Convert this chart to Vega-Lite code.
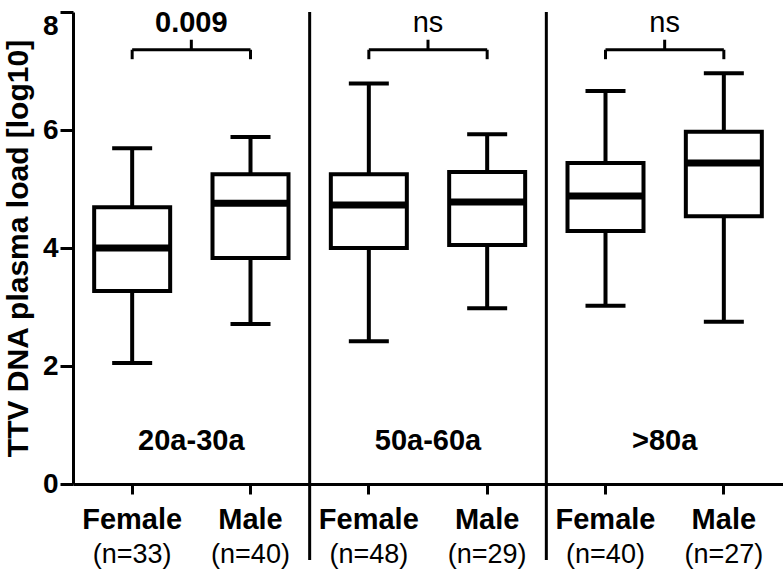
{
  "$schema": "https://vega.github.io/schema/vega-lite/v6.json",
  "width": 710,
  "height": 472,
  "autosize": "none",
  "padding": {"left": 73, "top": 12, "right": 0, "bottom": 85},
  "background": "white",
  "config": {
    "view": {"stroke": null},
    "font": "Liberation Sans",
    "text": {"font": "Liberation Sans", "color": "black"},
    "axis": {"labelFont": "Liberation Sans", "titleFont": "Liberation Sans", "labelColor": "black", "titleColor": "black", "domainColor": "black", "tickColor": "black", "grid": false}
  },
  "datasets": {
    "boxes": [
      {"cat": "Female|(n=33)", "lo": 2.05, "q1": 3.27, "med": 4.0, "q3": 4.69, "hi": 5.69},
      {"cat": "Male|(n=40)", "lo": 2.71, "q1": 3.83, "med": 4.76, "q3": 5.25, "hi": 5.88},
      {"cat": "Female|(n=48)", "lo": 2.42, "q1": 4.0, "med": 4.73, "q3": 5.25, "hi": 6.79},
      {"cat": "Male|(n=29)", "lo": 2.98, "q1": 4.05, "med": 4.78, "q3": 5.29, "hi": 5.93},
      {"cat": "Female|(n=40)", "lo": 3.02, "q1": 4.29, "med": 4.88, "q3": 5.44, "hi": 6.66},
      {"cat": "Male|(n=27)", "lo": 2.75, "q1": 4.54, "med": 5.44, "q3": 5.97, "hi": 6.96}
    ],
    "groups": [
      {"group": "20a-30a", "left": "Female|(n=33)", "right": "Male|(n=40)", "p": "0.009"},
      {"group": "50a-60a", "left": "Female|(n=48)", "right": "Male|(n=29)", "p": "ns"},
      {"group": ">80a", "left": "Female|(n=40)", "right": "Male|(n=27)", "p": "ns"}
    ],
    "dividers": [
      {"after": "Male|(n=40)"},
      {"after": "Male|(n=29)"}
    ]
  },
  "resolve": {"axis": {"x": "independent"}},
  "layer": [
    {
      "data": {"name": "boxes"},
      "mark": {"type": "rule", "strokeWidth": 4, "color": "black"},
      "encoding": {
        "x": {
          "field": "cat", "type": "nominal",
          "scale": {"type": "band", "domain": ["Female|(n=33)", "Male|(n=40)", "Female|(n=48)", "Male|(n=29)", "Female|(n=40)", "Male|(n=27)"], "paddingInner": 0, "paddingOuter": 0},
          "axis": {"title": null, "orient": "bottom", "labelExpr": "split(datum.value,'|')[0]", "labelFontSize": 29, "labelFontWeight": "bold", "labelAngle": 0, "tickSize": 10, "tickWidth": 3, "domainWidth": 3, "labelPadding": 11}
        },
        "y": {
          "field": "lo", "type": "quantitative",
          "scale": {"domain": [0, 8]},
          "axis": {"title": "TTV DNA plasma load [log10]", "values": [0, 2, 4, 6, 8], "format": "d", "labelFontSize": 28, "labelFontWeight": "bold", "labelBaseline": {"condition": {"test": "datum.value == 8", "value": "top"}, "value": "middle"}, "tickSize": 13, "tickWidth": 3, "domainWidth": 3, "labelPadding": 2, "titleFontSize": 30, "titleFontWeight": "bold", "titleColor": "black", "titlePadding": 9}
        },
        "y2": {"field": "hi"}
      }
    },
    {
      "data": {"name": "boxes"},
      "mark": {"type": "tick", "size": 40, "thickness": 4, "color": "black", "opacity": 1},
      "encoding": {
        "x": {"field": "cat", "type": "nominal", "axis": null},
        "y": {"field": "lo", "type": "quantitative", "title": "TTV DNA plasma load [log10]"}
      }
    },
    {
      "data": {"name": "boxes"},
      "mark": {"type": "tick", "size": 40, "thickness": 4, "color": "black", "opacity": 1},
      "encoding": {
        "x": {"field": "cat", "type": "nominal", "axis": null},
        "y": {"field": "hi", "type": "quantitative", "title": "TTV DNA plasma load [log10]"}
      }
    },
    {
      "data": {"name": "boxes"},
      "mark": {"type": "bar", "width": 76, "fill": "white", "stroke": "black", "strokeWidth": 4},
      "encoding": {
        "x": {
          "field": "cat", "type": "nominal",
          "axis": {"title": null, "orient": "bottom", "domain": false, "ticks": false, "tickSize": 0, "labelExpr": "split(datum.value,'|')[1]", "labelFontSize": 27, "labelFontWeight": "normal", "labelAngle": 0, "labelPadding": 57}
        },
        "y": {"field": "q1", "type": "quantitative", "title": "TTV DNA plasma load [log10]"},
        "y2": {"field": "q3"}
      }
    },
    {
      "data": {"name": "boxes"},
      "mark": {"type": "tick", "size": 78, "thickness": 7, "color": "black", "opacity": 1},
      "encoding": {
        "x": {"field": "cat", "type": "nominal", "axis": null},
        "y": {"field": "med", "type": "quantitative", "title": "TTV DNA plasma load [log10]"}
      }
    },
    {
      "data": {"name": "dividers"},
      "mark": {"type": "rule", "strokeWidth": 3, "color": "black"},
      "encoding": {
        "x": {"field": "after", "type": "nominal", "bandPosition": 1, "axis": null},
        "y": {"datum": 8, "type": "quantitative"},
        "y2": {"datum": -1.29}
      }
    },
    {
      "data": {"name": "groups"},
      "mark": {"type": "rule", "strokeWidth": 3, "color": "black"},
      "encoding": {
        "x": {"field": "left", "type": "nominal", "bandPosition": 0.5, "axis": null},
        "x2": {"field": "right", "bandPosition": 0.5},
        "y": {"datum": 7.36, "type": "quantitative"}
      }
    },
    {
      "data": {"name": "groups"},
      "mark": {"type": "rule", "strokeWidth": 3, "color": "black"},
      "encoding": {
        "x": {"field": "left", "type": "nominal", "axis": null},
        "y": {"datum": 7.2, "type": "quantitative"},
        "y2": {"datum": 7.36}
      }
    },
    {
      "data": {"name": "groups"},
      "mark": {"type": "rule", "strokeWidth": 3, "color": "black"},
      "encoding": {
        "x": {"field": "right", "type": "nominal", "axis": null},
        "y": {"datum": 7.2, "type": "quantitative"},
        "y2": {"datum": 7.36}
      }
    },
    {
      "data": {"name": "groups"},
      "mark": {"type": "rule", "strokeWidth": 3, "color": "black"},
      "encoding": {
        "x": {"field": "left", "type": "nominal", "bandPosition": 1, "axis": null},
        "y": {"datum": 7.36, "type": "quantitative"},
        "y2": {"datum": 7.53}
      }
    },
    {
      "data": {"name": "groups"},
      "transform": [{"filter": "datum.p != 'ns'"}],
      "mark": {"type": "text", "fontSize": 29, "fontWeight": "bold", "baseline": "alphabetic", "align": "center"},
      "encoding": {
        "x": {"field": "left", "type": "nominal", "bandPosition": 1, "axis": null},
        "y": {"datum": 7.66, "type": "quantitative"},
        "text": {"field": "p"}
      }
    },
    {
      "data": {"name": "groups"},
      "transform": [{"filter": "datum.p == 'ns'"}],
      "mark": {"type": "text", "fontSize": 29, "fontWeight": "normal", "baseline": "alphabetic", "align": "center"},
      "encoding": {
        "x": {"field": "left", "type": "nominal", "bandPosition": 1, "axis": null},
        "y": {"datum": 7.66, "type": "quantitative"},
        "text": {"field": "p"}
      }
    },
    {
      "data": {"name": "groups"},
      "mark": {"type": "text", "fontSize": 29, "fontWeight": "bold", "baseline": "alphabetic", "align": "center"},
      "encoding": {
        "x": {"field": "left", "type": "nominal", "bandPosition": 1, "axis": null},
        "y": {"datum": 0.58, "type": "quantitative"},
        "text": {"field": "group"}
      }
    }
  ]
}
